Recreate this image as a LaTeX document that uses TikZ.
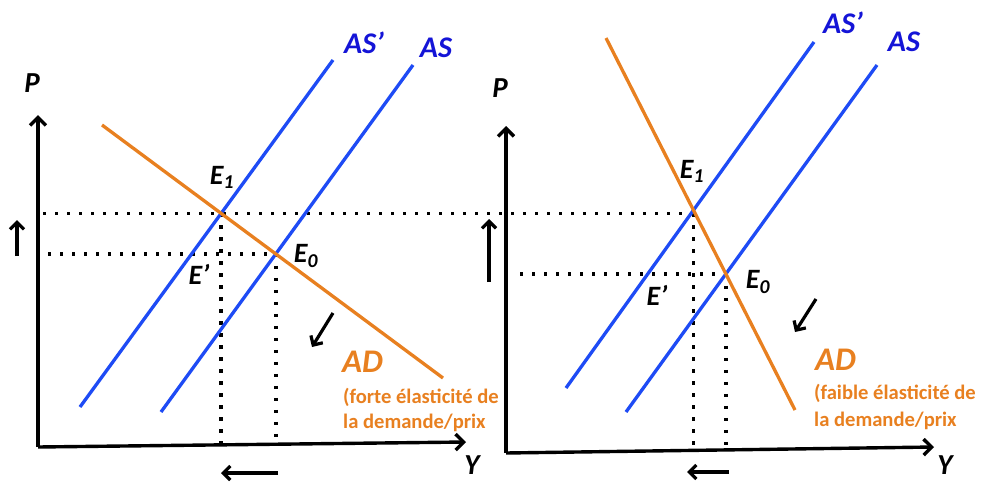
\documentclass[tikz,border=0pt]{standalone}
\usepackage{fontspec}
\setmainfont{Carlito}
\usetikzlibrary{arrows.meta}
\definecolor{asblue}{RGB}{30,75,245}
\definecolor{labblue}{RGB}{20,20,215}
\definecolor{adorange}{RGB}{232,128,32}
\begin{document}
\begin{tikzpicture}[x=1pt,y=-1pt,
  axisline/.style={line width=3.4pt,-{Straight Barb[length=8pt,width=16pt]}},
  smallarrow/.style={line width=3.2pt,-{Straight Barb[length=7pt,width=14pt]}},
  asline/.style={line width=3.3pt,asblue},
  adline/.style={line width=3.3pt,adorange},
  dotline/.style={line width=3.6pt,dash pattern=on 3.4pt off 8.6pt},
  axlab/.style={font=\fontsize{29}{33}\selectfont\bfseries\itshape,inner sep=0pt},
  elab/.style={font=\fontsize{28}{32}\selectfont\bfseries\itshape,inner sep=1pt},
  aslab/.style={font=\fontsize{30}{34}\selectfont\bfseries\itshape,text=labblue,inner sep=1pt},
  adlab/.style={font=\fontsize{33}{37}\selectfont\bfseries\itshape,text=adorange,anchor=west,inner sep=0pt},
  notelab/.style={font=\fontsize{20.6}{24}\selectfont\bfseries,text=adorange,anchor=west,inner sep=0pt}
]
\useasboundingbox (0,0) rectangle (983,482);

% ---------- left panel ----------
\coordinate (oL) at (38,447);
\coordinate (ytopL) at (38,115);
\coordinate (xendL) at (466,442);
\draw[axisline] (oL) -- (ytopL);
\draw[axisline] (oL) -- (xendL);
\node[axlab] (PL) at (32,83) {P};
\node[axlab] (YL) at (472,465) {Y};

\coordinate (ADLa) at (102,125);
\coordinate (ADLb) at (443,378);
\coordinate (ASpLa) at (80,407);
\coordinate (ASpLb) at (333,60);
\coordinate (ASLa) at (161,412);
\coordinate (ASLb) at (413,65);
\coordinate (E1L) at (intersection of ADLa--ADLb and ASpLa--ASpLb);
\coordinate (E0L) at (intersection of ADLa--ADLb and ASLa--ASLb);

\coordinate (E1Lbase) at (E1L |- 0,445);
\coordinate (E0Lbase) at (E0L |- 0,444);
\coordinate (E1Lleft) at (43,0 |- E1L);
\coordinate (E0Lleft) at (48,0 |- E0L);

% ---------- right panel ----------
\coordinate (oR) at (506,453);
\coordinate (ytopR) at (506,126);
\coordinate (xendR) at (934,447);
\draw[axisline] (oR) -- (ytopR);
\draw[axisline] (oR) -- (xendR);
\node[axlab] (PR) at (500,88) {P};
\node[axlab] (YR) at (945,465) {Y};

\coordinate (ADRa) at (606,38);
\coordinate (ADRb) at (795,410);
\coordinate (ASpRa) at (566,388);
\coordinate (ASpRb) at (814,42);
\coordinate (ASRa) at (626,412);
\coordinate (ASRb) at (877,65);
\coordinate (E1R) at (intersection of ADRa--ADRb and ASpRa--ASpRb);
\coordinate (E0R) at (intersection of ADRa--ADRb and ASRa--ASRb);

\coordinate (E1Rbase) at (E1R |- 0,447);
\coordinate (E0Rbase) at (E0R |- 0,446);
\coordinate (E0Rleft) at (520,0 |- E0R);
\coordinate (E1Rrow) at (E1R |- E1L);

% ---------- dotted guides ----------
\draw[dotline] (E1Lleft) -- (E1Rrow);
\draw[dotline] (E0Lleft) -- (E0L);
\draw[dotline] (E1L) -- (E1Lbase);
\draw[dotline] (E0L) -- (E0Lbase);
\draw[dotline] (E0Rleft) -- (E0R);
\draw[dotline] (E1Rrow) -- (E1Rbase);
\draw[dotline] (E0R) -- (E0Rbase);

% ---------- curves ----------
\draw[asline] (ASpLa) -- (ASpLb);
\draw[asline] (ASLa) -- (ASLb);
\draw[adline] (ADLa) -- (ADLb);
\draw[asline] (ASpRa) -- (ASpRb);
\draw[asline] (ASRa) -- (ASRb);
\draw[adline] (ADRa) -- (ADRb);

% ---------- labels left ----------
\node[aslab] (ASpLlab) at (364,43) {AS’};
\node[aslab] (ASLlab) at (436,48) {AS};
\node[elab] (E1Llab) at (222,177) {E\textsubscript{1}};
\node[elab] (E0Llab) at (306,256) {E\textsubscript{0}};
\node[elab] (EpLlab) at (199,274) {E’};
\node[adlab] (ADLlab) at (342,362) {AD};
\node[notelab] (noteL1) at (343,397) {(forte élasticité de};
\node[notelab] (noteL2) at (343,423) {la demande/prix};

% ---------- labels right ----------
\node[aslab] (ASpRlab) at (843,23) {AS’};
\node[aslab] (ASRlab) at (904,42) {AS};
\node[elab] (E1Rlab) at (692,171) {E\textsubscript{1}};
\node[elab] (E0Rlab) at (758,282) {E\textsubscript{0}};
\node[elab] (EpRlab) at (657,295) {E’};
\node[adlab] (ADRlab) at (815,360) {AD};
\node[notelab] (noteR1) at (814,393) {(faible élasticité de};
\node[notelab] (noteR2) at (814,421) {la demande/prix};

% ---------- shift arrows ----------
\coordinate (upLa) at (17,256);
\coordinate (upLb) at (17,220);
\draw[smallarrow] (upLa) -- (upLb);
\coordinate (upRa) at (489,282);
\coordinate (upRb) at (489,219);
\draw[smallarrow] (upRa) -- (upRb);
\coordinate (dgLa) at (333,313);
\coordinate (dgLb) at (312,347);
\draw[smallarrow] (dgLa) -- (dgLb);
\coordinate (dgRa) at (816,299);
\coordinate (dgRb) at (795,332);
\draw[smallarrow] (dgRa) -- (dgRb);
\coordinate (ltLa) at (278,473);
\coordinate (ltLb) at (221,473);
\draw[smallarrow] (ltLa) -- (ltLb);
\coordinate (ltRa) at (729,472);
\coordinate (ltRb) at (687,472);
\draw[smallarrow] (ltRa) -- (ltRb);
\end{tikzpicture}
\end{document}
